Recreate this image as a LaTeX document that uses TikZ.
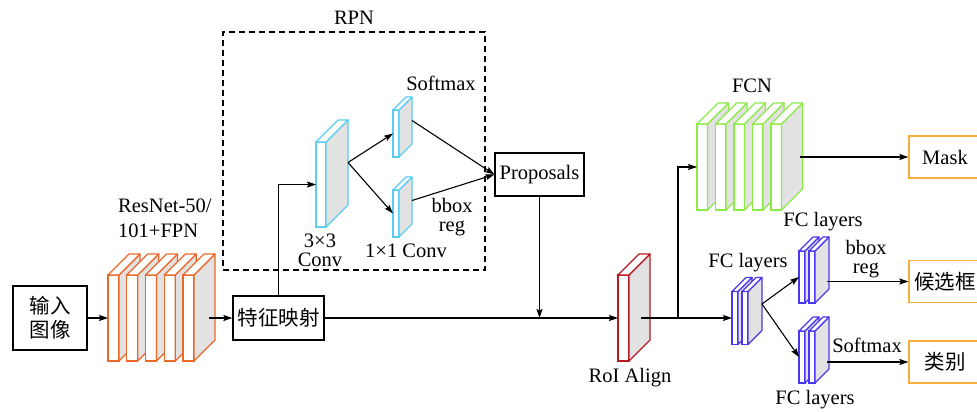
\documentclass[tikz,border=0pt]{standalone}
\usepackage{fontspec}
\setmainfont{Liberation Serif}
\newfontfamily\cjk{Noto Sans CJK SC}
\usetikzlibrary{arrows.meta,positioning,calc}
\definecolor{resorange}{RGB}{236,104,40}
\definecolor{rpncyan}{RGB}{90,205,240}
\definecolor{fcngreen}{RGB}{140,235,70}
\definecolor{roired}{RGB}{185,25,35}
\definecolor{fcblue}{RGB}{75,55,240}
\definecolor{outorange}{RGB}{248,175,60}
\definecolor{sidegray}{RGB}{226,226,226}
\newcommand{\cnfont}{\cjk\fontsize{20.5pt}{24pt}\selectfont}
% side and top faces of a slab whose front face is node #1
\newcommand{\slabfaces}[3]{%
  \draw[draw=#2, fill=sidegray, line width=1.2pt, line join=round] (#1.north east) -- ++(#3,-#3) -- ($(#1.south east)+(#3,-#3)$) -- (#1.south east) -- cycle;
  \draw[draw=#2, fill=white, line width=1.2pt, line join=round] (#1.north west) -- ++(#3,-#3) -- ($(#1.north east)+(#3,-#3)$) -- (#1.north east) -- cycle;
}

\begin{document}
\begin{tikzpicture}[
    x=1pt, y=-1pt,
    font=\fontsize{20.5pt}{24pt}\selectfont,
    box/.style={rectangle, draw=black, fill=white, line width=1.2pt, inner sep=0pt, text centered},
    outbox/.style={box, draw=outorange, minimum width=72pt, minimum height=42pt},
    slab/.style={rectangle, draw=#1, fill=white, line width=1.2pt, inner sep=0pt, outer sep=0pt, minimum width=11pt, minimum height=86pt},
    thin slab/.style={slab=#1, minimum width=6pt, minimum height=52pt},
    lbl/.style={inner sep=0pt, align=center, font=\fontsize{20.5pt}{19.5pt}\selectfont},
    arrow/.style={-{Stealth[length=9pt, width=6pt, inset=1.5pt]}, line width=1.1pt, draw=black}
]
\clip (0,0) rectangle (977,412);

% input and backbone
\node[box, minimum width=74pt, minimum height=64pt, align=center, font=\cnfont] (in) at (50,318) {输入\\图像};
\foreach \i in {1,...,5}{
  \node[slab=resorange] (r\i) at ({113.5+18.75*(\i-1)},318) {};
  \slabfaces{r\i}{resorange}{21}
}
\node[lbl, anchor=west, align=left, font=\fontsize{20.5pt}{25pt}\selectfont] (resname) at (118,218.5) {ResNet-50/\\101+FPN};
\coordinate (rout) at ($(r5.east)+(15,0)$);
\node[box, minimum width=91pt, minimum height=44pt, font=\cnfont] (feat) at (278.5,318) {特征映射};
\draw[arrow] (in) -- (r1);
\draw[arrow] (rout) -- (feat);

% RPN
\node[draw, dash pattern=on 6pt off 4pt, line width=1.1pt, minimum width=262pt, minimum height=238pt] (rpn) at (354,151) {};
\node[lbl, above=7pt of rpn] (rpnname) {RPN};
\node[slab=rpncyan, minimum width=10pt, minimum height=85pt] (c3) at (321,184.5) {};
\slabfaces{c3}{rpncyan}{22}
\node[thin slab=rpncyan, minimum height=47pt] (s1) at (396,133.5) {};
\slabfaces{s1}{rpncyan}{13}
\node[thin slab=rpncyan, minimum height=47pt] (s2) at (396,213.5) {};
\slabfaces{s2}{rpncyan}{13}
\node[lbl] (c3name) at (320,250.5) {3×3\\Conv};
\node[lbl] (c1name) at (406,251) {1×1 Conv};
\node[lbl] (rpnsoft) at (441,83) {Softmax};
\node[lbl] (rpnreg) at (452,217) {bbox\\reg};
\node[box, minimum width=89pt, minimum height=43pt] (prop) at (539.5,174.5) {Proposals};
\coordinate (c3out) at ($(c3.east)+(22,-22)$);
\coordinate (s1out) at ($(s1.east)+(13,-13)$);
\coordinate (s2out) at ($(s2.east)+(13,-13)$);
\draw[arrow] (feat.north) |- (c3.west);
\draw[arrow] (c3out) -- (s1.west);
\draw[arrow] (c3out) -- (s2.west);
\draw[arrow] (s1out) -- (prop.west);
\draw[arrow] (s2out) -- (prop.west);

% RoI Align
\node[slab=roired] (roi) at (623.5,318) {};
\slabfaces{roi}{roired}{21}
\node[lbl] (roiname) at (630,378) {RoI Align};
\draw[arrow] (feat) -- (roi);
\draw[arrow] (prop.south) -- (prop.south |- roi.west);

% heads
\foreach \i in {1,...,5}{
  \node[slab=fcngreen, minimum width=10.5pt] (f\i) at ({702.25+18.5*(\i-1)},167) {};
  \slabfaces{f\i}{fcngreen}{21}
}
\node[lbl] (fcnname) at (752,86) {FCN};
\node[thin slab=fcblue, minimum height=53pt] (m1) at (735,318) {};
\slabfaces{m1}{fcblue}{14}
\node[thin slab=fcblue, minimum height=53pt] (m2) at (745,318) {};
\slabfaces{m2}{fcblue}{14}
\node[thin slab=fcblue] (u1) at (802,277) {};
\slabfaces{u1}{fcblue}{14}
\node[thin slab=fcblue] (u2) at (812,277) {};
\slabfaces{u2}{fcblue}{14}
\node[thin slab=fcblue] (l1) at (802,357) {};
\slabfaces{l1}{fcblue}{14}
\node[thin slab=fcblue] (l2) at (812,357) {};
\slabfaces{l2}{fcblue}{14}
\node[lbl] (fcmid) at (748,263) {FC layers};
\node[lbl] (fcup) at (823,222) {FC layers};
\node[lbl] (fclow) at (815,400) {FC layers};
\node[lbl] (headreg) at (866,259) {bbox\\reg};
\node[lbl] (headsoft) at (867,345) {Softmax};
\node[outbox] (mask) at (945,157) {Mask};
\node[outbox, font=\cnfont] (cand) at (945,281.5) {候选框};
\node[outbox, font=\cnfont] (cls) at (945,362) {类别};

\coordinate (roiout) at ($(roi.east)+(12,0)$);
\coordinate (split) at (678,318);
\coordinate (fout) at ($(f5.east)+(18,-10)$);
\coordinate (mout) at ($(m2.east)+(14,-14)$);
\coordinate (uout) at ($(u2.east)+(12,0)$);
\coordinate (lout) at ($(l2.east)+(12,0)$);
\draw[line width=1.1pt] (roiout) -- (split);
\draw[arrow] (split) |- (f1.west);
\draw[arrow] (split) -- (m1.west);
\draw[arrow] (fout) -- (fout -| mask.west);
\draw[arrow] (mout) -- (u1.west);
\draw[arrow] (mout) -- (l1.west);
\draw[arrow] (uout |- cand.west) -- (cand.west);
\draw[arrow] (lout |- cls.west) -- (cls.west);
\end{tikzpicture}
\end{document}
